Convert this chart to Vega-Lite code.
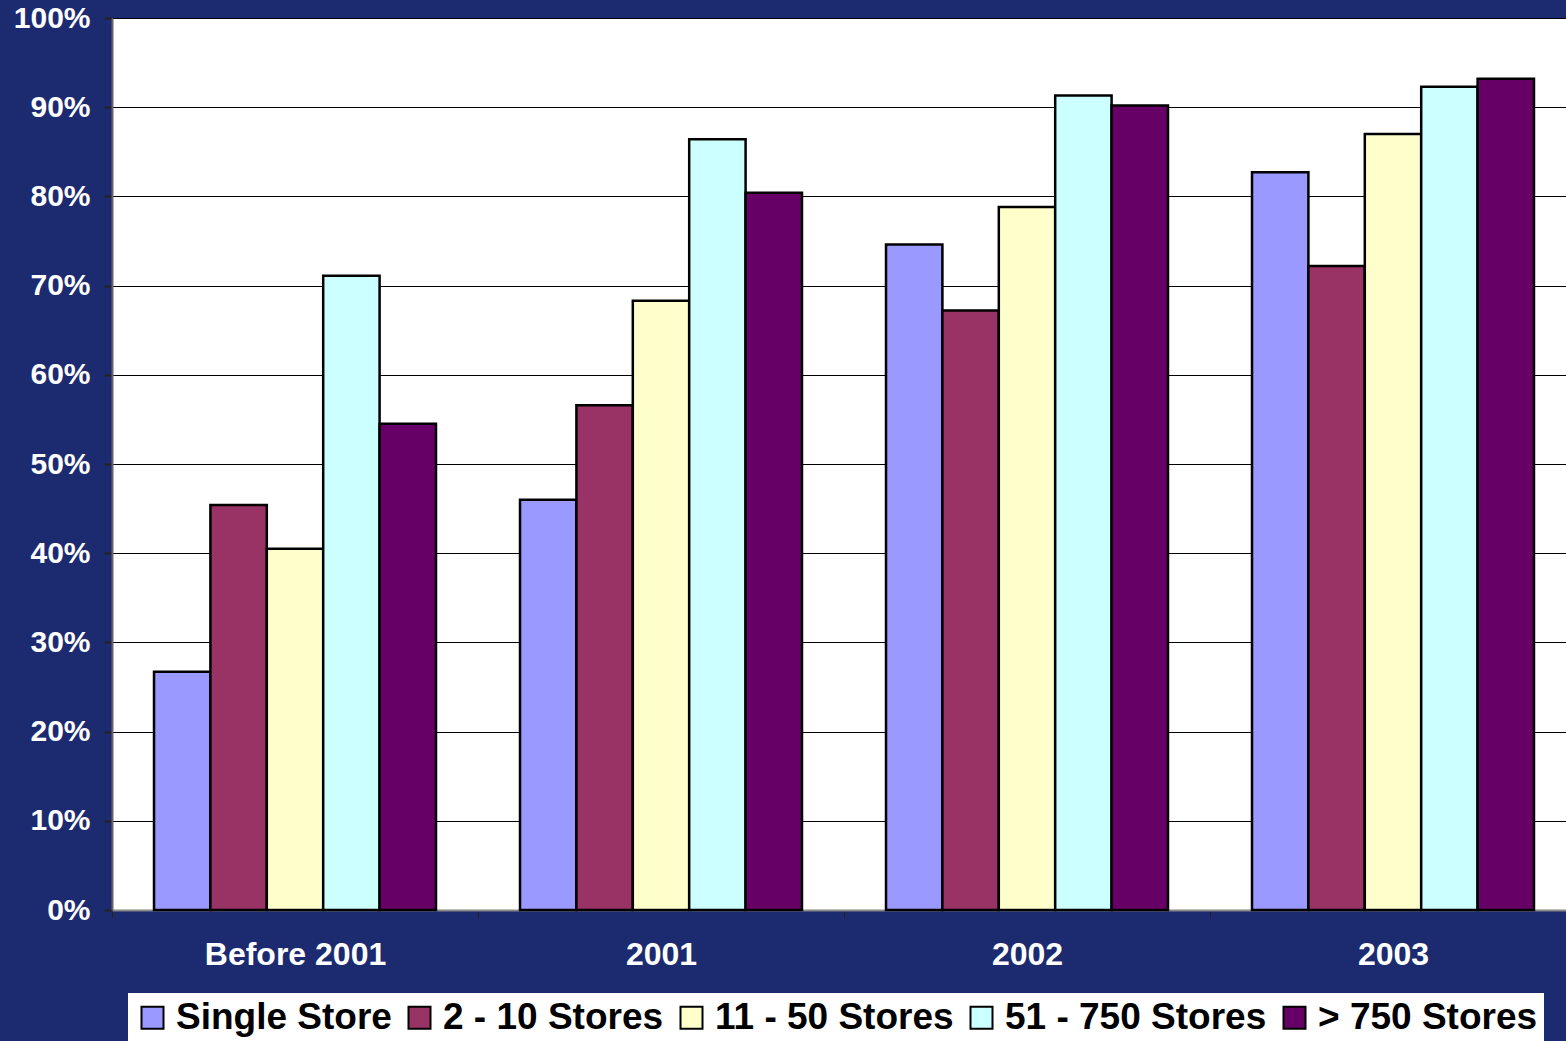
{
  "$schema": "https://vega.github.io/schema/vega-lite/v6.json",
  "autosize": {"type": "none"},
  "padding": {"left": 112, "top": 18, "right": 0, "bottom": 131},
  "width": 1464,
  "height": 892,
  "background": "#1c2a70",
  "config": {
    "view": {"fill": "white", "stroke": null},
    "font": "Liberation Sans"
  },
  "data": {
    "values": [
      {"period": "Before 2001", "segment": "Single Store", "share": 0.267},
      {"period": "Before 2001", "segment": "2 - 10 Stores", "share": 0.454},
      {"period": "Before 2001", "segment": "11 - 50 Stores", "share": 0.405},
      {"period": "Before 2001", "segment": "51 - 750 Stores", "share": 0.711},
      {"period": "Before 2001", "segment": "> 750 Stores", "share": 0.545},
      {"period": "2001", "segment": "Single Store", "share": 0.460},
      {"period": "2001", "segment": "2 - 10 Stores", "share": 0.566},
      {"period": "2001", "segment": "11 - 50 Stores", "share": 0.683},
      {"period": "2001", "segment": "51 - 750 Stores", "share": 0.864},
      {"period": "2001", "segment": "> 750 Stores", "share": 0.804},
      {"period": "2002", "segment": "Single Store", "share": 0.746},
      {"period": "2002", "segment": "2 - 10 Stores", "share": 0.672},
      {"period": "2002", "segment": "11 - 50 Stores", "share": 0.788},
      {"period": "2002", "segment": "51 - 750 Stores", "share": 0.913},
      {"period": "2002", "segment": "> 750 Stores", "share": 0.902},
      {"period": "2003", "segment": "Single Store", "share": 0.827},
      {"period": "2003", "segment": "2 - 10 Stores", "share": 0.722},
      {"period": "2003", "segment": "11 - 50 Stores", "share": 0.870},
      {"period": "2003", "segment": "51 - 750 Stores", "share": 0.923},
      {"period": "2003", "segment": "> 750 Stores", "share": 0.932}
    ]
  },
  "mark": {"type": "bar", "stroke": "black", "strokeWidth": 2.5},
  "encoding": {
    "x": {
      "field": "period",
      "type": "nominal",
      "sort": ["Before 2001", "2001", "2002", "2003"],
      "scale": {"paddingInner": 0, "paddingOuter": 0},
      "axis": {
        "title": null,
        "labelAngle": 0,
        "labelFontSize": 32,
        "labelFontWeight": "bold",
        "labelColor": "white",
        "labelPadding": 21,
        "labelLimit": 400,
        "tickBand": "extent",
        "tickSize": 8,
        "tickColor": "#222222",
        "domainColor": "#888888",
        "domainWidth": 2
      }
    },
    "xOffset": {
      "field": "segment",
      "type": "nominal",
      "sort": ["Single Store", "2 - 10 Stores", "11 - 50 Stores", "51 - 750 Stores", "> 750 Stores"],
      "scale": {"paddingInner": 0, "paddingOuter": 0.745}
    },
    "y": {
      "field": "share",
      "type": "quantitative",
      "scale": {"domain": [0, 1], "nice": false},
      "axis": {
        "title": null,
        "format": ".0%",
        "values": [0, 0.1, 0.2, 0.3, 0.4, 0.5, 0.6, 0.7, 0.8, 0.9, 1],
        "labelFontSize": 30,
        "labelFontWeight": "bold",
        "labelColor": "white",
        "labelPadding": 14,
        "tickSize": 8,
        "tickColor": "#222222",
        "tickWidth": 2,
        "domainColor": "#666666",
        "domainWidth": 2,
        "grid": true,
        "gridColor": "black",
        "gridWidth": 1.2,
        "gridOpacity": 1
      }
    },
    "color": {
      "field": "segment",
      "type": "nominal",
      "sort": ["Single Store", "2 - 10 Stores", "11 - 50 Stores", "51 - 750 Stores", "> 750 Stores"],
      "scale": {
        "domain": ["Single Store", "2 - 10 Stores", "11 - 50 Stores", "51 - 750 Stores", "> 750 Stores"],
        "range": ["#9999FF", "#993366", "#FFFFCC", "#CCFFFF", "#660066"]
      },
      "legend": {
        "title": null,
        "orient": "none",
        "direction": "horizontal",
        "legendX": 16,
        "legendY": 975,
        "fillColor": "white",
        "padding": 6,
        "symbolType": "square",
        "symbolSize": 484,
        "symbolStrokeColor": "black",
        "symbolStrokeWidth": 2,
        "symbolOpacity": 1,
        "labelFontSize": 37,
        "labelFontWeight": "bold",
        "labelColor": "black",
        "labelOffset": 5,
        "columnPadding": 9,
        "labelLimit": 400
      }
    }
  }
}
